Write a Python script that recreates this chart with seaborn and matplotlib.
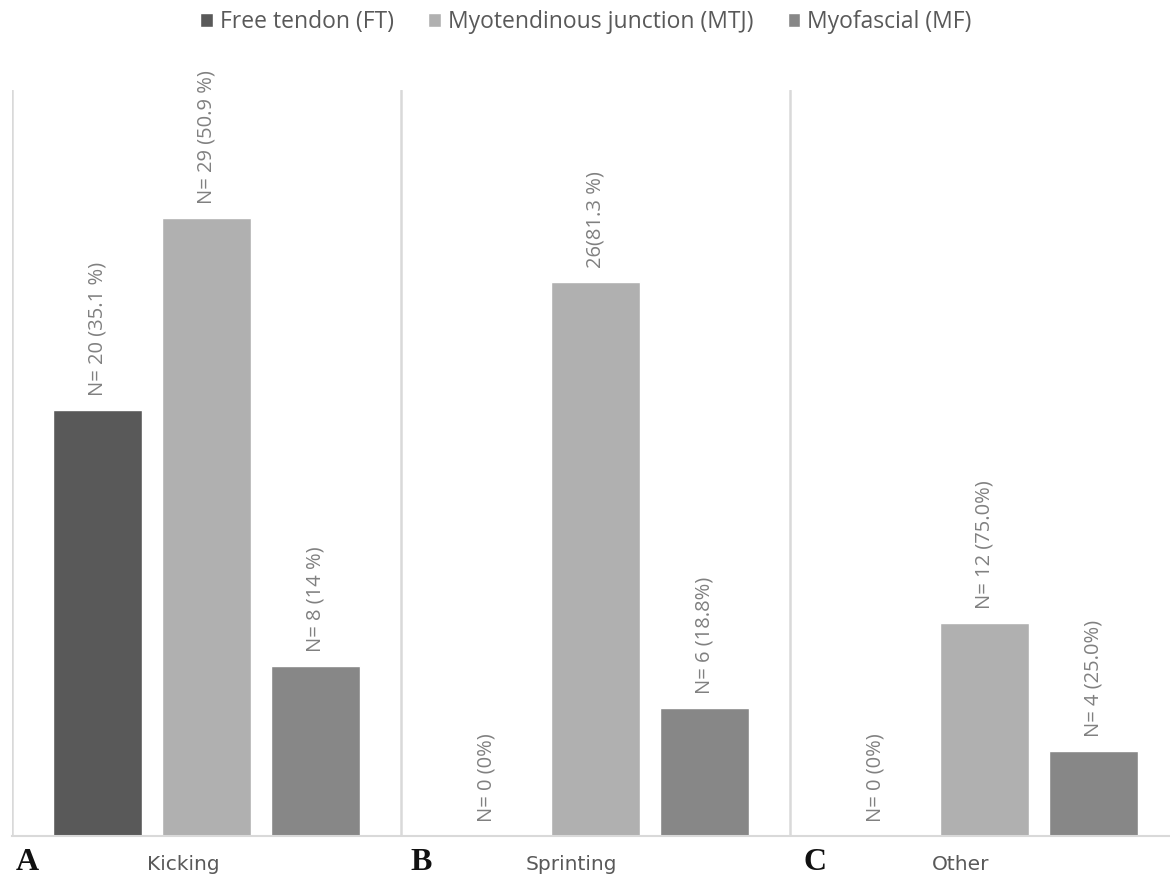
import pandas as pd
import matplotlib.pyplot as plt
import seaborn as sns

# Data
categories = ['Kicking', 'Sprinting', 'Other']
panel_letters = ['A', 'B', 'C']
injury_types = ['Free tendon (FT)', 'Myotendinous junction (MTJ)', 'Myofascial (MF)']
ft_values = [20, 0, 0]
mtj_values = [29, 26, 10]
mf_values = [8, 6, 4]
ft_labels = ['N= 20 (35.1 %)', 'N= 0 (0%)', 'N= 0 (0%)']
mtj_labels = ['N= 29 (50.9 %)', '26(81.3 %)', 'N= 12 (75.0%)']
mf_labels = ['N= 8 (14 %)', 'N= 6 (18.8%)', 'N= 4 (25.0%)']

colors = ['#595959', '#b0b0b0', '#878787']

df = pd.DataFrame({
    'category': categories * 3,
    'type': [injury_types[0]] * 3 + [injury_types[1]] * 3 + [injury_types[2]] * 3,
    'value': ft_values + mtj_values + mf_values,
})

sns.set_theme(style='white')
plt.rcParams['font.family'] = ['Open Sans', 'DejaVu Sans']

fig = plt.figure(figsize=(11.7, 8.77), dpi=100)
W, H = 1170, 877
ax = fig.add_axes([12 / W, 1 - 836 / H, 1158 / W, (836 - 90.5) / H])

sns.barplot(data=df, x='category', y='value', hue='type', order=categories,
            hue_order=injury_types, palette=colors, width=0.84, gap=0.19,
            saturation=1, ax=ax, legend=True)

ax.set_xlim(-0.5, -0.5 + 1158 / 389)
ax.set_ylim(0, 35)

# value labels, rotated, above each bar
all_labels = [ft_labels, mtj_labels, mf_labels]
for cont, labs in zip(ax.containers, all_labels):
    for bar, lab in zip(cont, labs):
        ax.annotate(lab, (bar.get_x() + bar.get_width() / 2, bar.get_height()),
                    xytext=(0, 10), textcoords='offset points',
                    rotation=90, ha='center', va='bottom', fontsize=14.5,
                    color='#808080', annotation_clip=False)

# panel separators
for xv in [-0.5, 0.5, 1.5]:
    ax.axvline(xv, color='#d9d9d9', lw=1.8, zorder=0)

for s in ['top', 'right', 'left']:
    ax.spines[s].set_visible(False)
ax.spines['bottom'].set_color('#d9d9d9')
ax.spines['bottom'].set_linewidth(1.5)
ax.set_xticks([])
ax.set_yticks([])
ax.set_xlabel('')
ax.set_ylabel('')

# legend on top
leg = ax.legend(loc='center', bbox_to_anchor=(586 / W, 1 - 22 / H),
                bbox_transform=fig.transFigure, ncol=3, frameon=False,
                fontsize=16.5, handlelength=0.55, handleheight=0.55,
                handletextpad=0.3, columnspacing=1.5)
for t in leg.get_texts():
    t.set_color('#595959')

# bottom captions
cat_x = [183, 571, 961]
letter_x = [27, 421, 815]
for cx, lx, cat, letter in zip(cat_x, letter_x, categories, panel_letters):
    fig.text(cx / W, 1 - 865 / H, cat, ha='center', va='center',
             fontsize=14.5, color='#595959', family=['DejaVu Sans'])
    fig.text(lx / W, 1 - 870 / H, letter, ha='center', va='baseline',
             fontsize=23, fontweight='bold', color='#111111',
             family=['Liberation Serif', 'DejaVu Serif'])

plt.savefig('out.png', dpi=100)
plt.close()
